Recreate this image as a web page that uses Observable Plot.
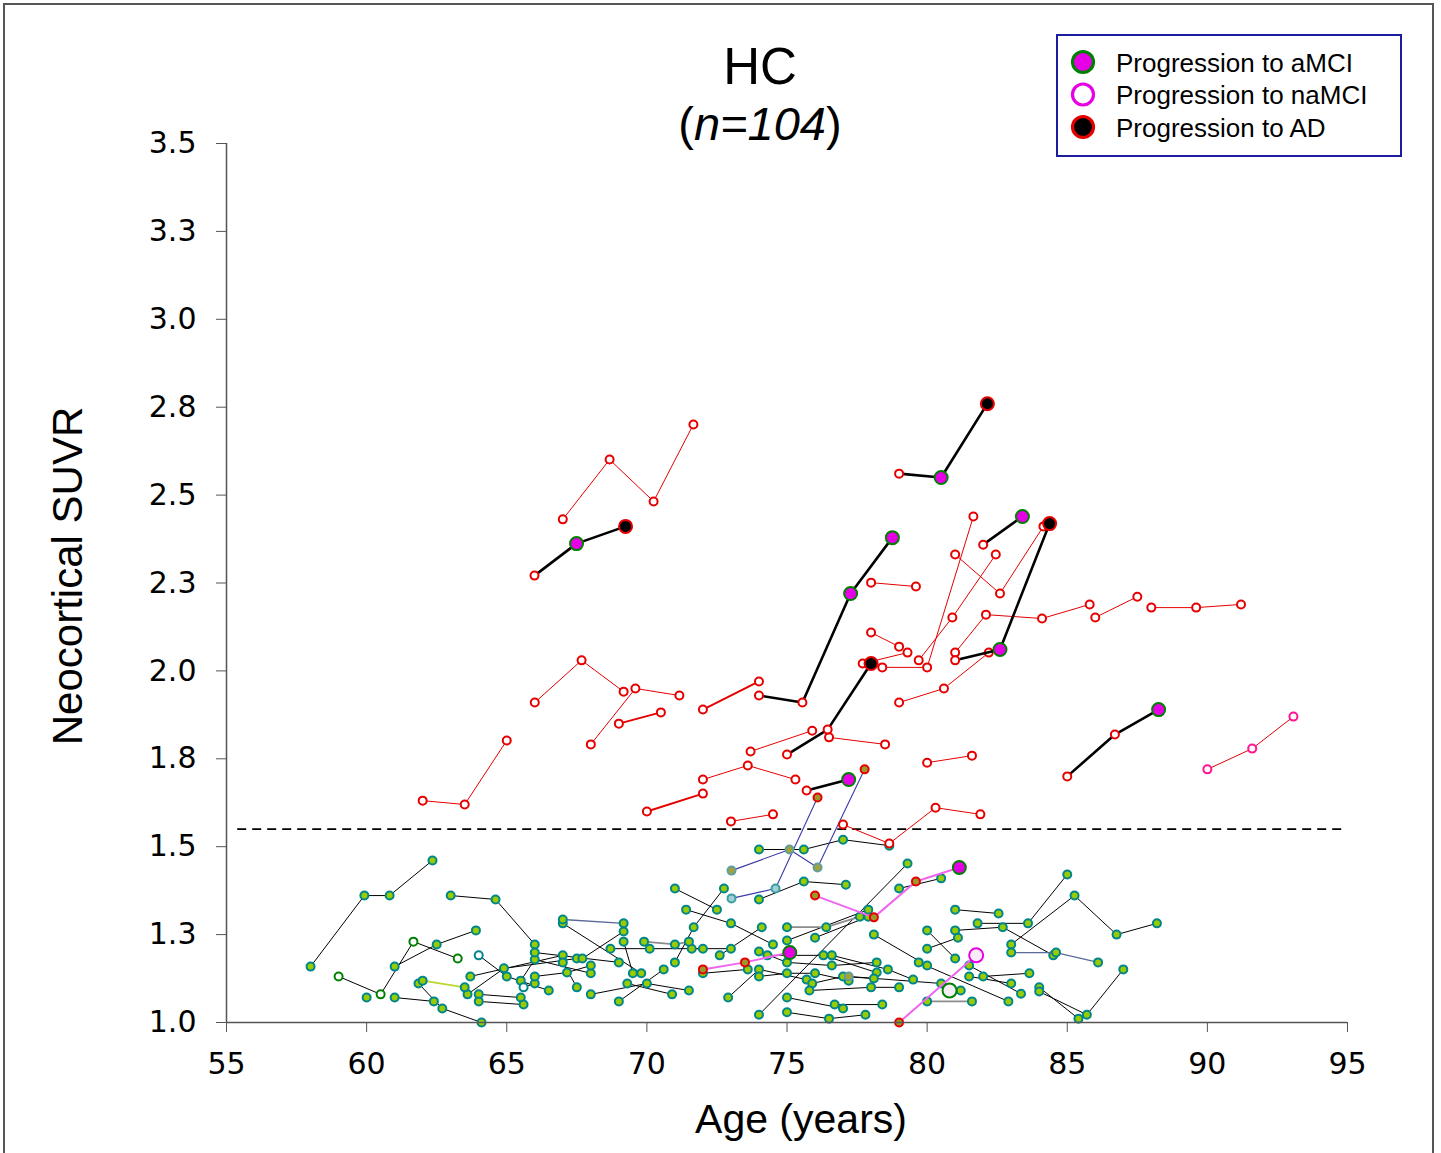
<!DOCTYPE html>
<html><head><meta charset="utf-8">
<script src="https://cdn.jsdelivr.net/npm/d3@7"></script>
<script src="https://cdn.jsdelivr.net/npm/@observablehq/plot@0.6"></script>
<style>
body{margin:0;background:#fff;}
#wrap{position:relative;width:1441px;height:1153px;overflow:hidden;background:#fff;}
#frame{position:absolute;left:3px;top:3px;width:1431px;height:1200px;border:2px solid #555;box-sizing:border-box;}
#chart{position:absolute;left:0;top:0;}
#ov{position:absolute;left:0;top:0;pointer-events:none;}
</style></head>
<body><div id="wrap"><div id="frame"></div><div id="chart"></div><svg id="ov" width="1441" height="1153"></svg></div>
<script>
// ---------- data (age in years, neocortical SUVR, optional point status) ----------
const xTicks = [55,60,65,70,75,80,85,90,95];
const yTicks = [1.0,1.25,1.5,1.75,2.0,2.25,2.5,2.75,3.0,3.25,3.5];
const yTickLabels = ["1.0","1.3","1.5","1.8","2.0","2.3","2.5","2.8","3.0","3.3","3.5"];
const threshold = 1.55;
const titleMain = "HC";
const titleN = "n=104";
const xLabel = "Age (years)";
const yLabel = "Neocortical SUVR";
const legendLabels = ["Progression to aMCI","Progression to naMCI","Progression to AD"];
const legendStatus = ["A","N","D"];

// amyloid-negative subjects (black thin lines)
const greenSubjects = [
 [[74.0,1.492],[75.6,1.492],[77.0,1.520],[78.65,1.503]],
 [[58.0,1.159],[59.92,1.361],[60.82,1.361],[62.35,1.461]],
 [[63.0,1.361],[64.6,1.350],[66.0,1.222]],
 [[59.0,1.131,"o"],[60.5,1.080,"o"],[61.67,1.230,"o"],[63.25,1.182,"o"]],
 [[61.0,1.159],[62.5,1.222],[63.9,1.262]],
 [[60.0,1.071]],
 [[61.0,1.071],[62.4,1.060]],
 [[61.85,1.111],[62.7,1.040],[64.1,1.000]],
 [[63.7,1.131],[67.0,1.191]],
 [[63.6,1.080],[64.9,1.154],[67.5,1.182]],
 [[64.0,1.191,"t"],[65.0,1.131],[66.5,1.091]],
 [[64.0,1.080],[65.5,1.071]],
 [[64.0,1.060],[65.6,1.051]],
 [[65.5,1.119],[66.0,1.179],[68.0,1.140]],
 [[65.6,1.100,"t"],[66.0,1.111]],
 [[66.0,1.199],[69.0,1.171]],
 [[66.0,1.131],[67.15,1.142],[68.0,1.162]],
 [[67.0,1.282],[69.8,1.140]],
 [[67.7,1.182],[69.17,1.259]],
 [[69.17,1.230],[69.5,1.140]],
 [[68.7,1.210],[70.1,1.210],[72.0,1.210]],
 [[71.0,1.381],[72.5,1.321]],
 [[71.0,1.171],[71.67,1.271],[72.75,1.381]],
 [[71.4,1.321],[73.0,1.282],[74.5,1.222]],
 [[72.6,1.191],[74.1,1.271]],
 [[68.0,1.080],[70.0,1.111],[71.5,1.091]],
 [[69.0,1.060],[70.6,1.151]],
 [[69.3,1.111],[70.9,1.080]],
 [[67.0,1.171],[67.5,1.100]],
 [[72.0,1.140],[73.6,1.151]],
 [[72.9,1.071],[74.0,1.151],[75.7,1.122]],
 [[74.0,1.350],[75.6,1.401],[77.1,1.392]],
 [[71.6,1.210],[73.0,1.210]],
 [[81.8,1.282],[83.6,1.282],[85.0,1.421]],
 [[83.0,1.222],[85.26,1.361],[86.76,1.250],[88.2,1.282]],
 [[81.0,1.262],[82.7,1.271],[84.5,1.191]],
 [[82.0,1.131],[83.65,1.140]],
 [[81.5,1.131],[83.0,1.111]],
 [[81.5,1.162],[83.35,1.082]],
 [[79.7,1.171],[82.9,1.060]],
 [[84.0,1.100],[85.4,1.011]],
 [[84.0,1.088],[85.7,1.022],[87.0,1.151]],
 [[81.0,1.321],[82.55,1.310]],
 [[79.0,1.381],[80.5,1.410]],
 [[74.0,1.022],[79.3,1.452]],
 [[75.0,1.029],[76.5,1.011],[77.8,1.022]],
 [[76.7,1.051],[78.4,1.051]],
 [[76.0,1.241],[77.9,1.301]],
 [[75.0,1.233],[77.9,1.321]],
 [[78.1,1.250],[80.0,1.162]],
 [[80.0,1.210],[81.1,1.241]],
 [[74.0,1.202],[75.0,1.171],[76.6,1.162],[78.2,1.171]],
 [[74.3,1.191],[76.3,1.191],[78.2,1.142]],
 [[74.0,1.131],[75.0,1.140],[76.0,1.140],[77.2,1.119]],
 [[76.6,1.191],[78.6,1.151],[79.5,1.122]],
 [[75.9,1.111],[77.0,1.131],[78.1,1.125]],
 [[75.8,1.091],[78.0,1.100],[79.0,1.100]],
 [[77.2,1.131,"v"],[80.5,1.111]],
 [[80.0,1.262],[81.0,1.182]],
 [[80.8,1.091,"O"],[81.2,1.091]],
 [[75.0,1.071],[77.0,1.040]]
];
const grayLineSubjects = [
 [[69.9,1.230],[71.0,1.222],[71.5,1.230]],
 [[75.0,1.271],[76.4,1.271],[77.6,1.301]],
 [[80.0,1.060],[81.6,1.060]]
];
const yellowLineSubjects = [
 [[62.0,1.119],[63.5,1.100]]
];
const slateLineSubjects = [
 [[67.0,1.293],[69.17,1.282]],
 [[83.0,1.199],[84.6,1.199],[86.1,1.171]]
];
const blueSubjects = [
 [[73.02,1.353,"b"],[74.59,1.381,"b"],[76.09,1.640,"r"]],
 [[73.02,1.432,"v"],[75.09,1.492,"v"],[76.09,1.441,"v"],[77.77,1.720,"r"]]
];
const pinkSubjects = [
 [[72.0,1.151,"r"],[73.5,1.171,"r"],[75.1,1.199,"A"]],
 [[76.0,1.361,"r"],[78.1,1.299,"r"],[79.6,1.401,"r"],[81.15,1.441,"A"]],
 [[79.0,1.000,"r"],[81.75,1.191,"N"]]
];
// amyloid-positive subjects (red lines)
const redSubjects = [
 [[67.0,2.431],[68.67,2.601],[70.24,2.482],[71.66,2.701]],
 [[62.0,1.631],[63.5,1.620],[65.0,1.802]],
 [[66.0,1.910],[67.67,2.030],[69.17,1.941]],
 [[68.0,1.791],[69.59,1.950],[71.16,1.930]],
 [[72.0,1.691],[73.6,1.731],[75.3,1.691]],
 [[73.7,1.771],[75.9,1.830]],
 [[76.5,1.811],[78.5,1.791]],
 [[79.0,1.910],[80.6,1.950],[82.2,2.052]],
 [[80.0,1.739],[81.6,1.759]],
 [[73.0,1.572],[74.5,1.592]],
 [[77.0,1.563],[78.65,1.509],[80.3,1.611],[81.9,1.592]],
 [[86.0,2.152],[87.5,2.211]],
 [[88.0,2.180],[89.6,2.180],[91.2,2.189]],
 [[81.0,2.331],[82.6,2.220],[84.15,2.411]],
 [[78.4,2.010],[80.0,2.010],[81.65,2.439]],
 [[79.7,2.030],[80.9,2.152],[82.45,2.331]],
 [[78.0,2.109],[79.0,2.069]],
 [[77.7,2.021],[79.3,2.052]],
 [[78.0,2.251],[79.6,2.240]],
 [[81.0,2.052],[82.1,2.160],[84.1,2.149],[85.8,2.189]],
 [[90.0,1.720,"k"],[91.6,1.779,"k"],[93.07,1.870,"k"]]
];
const redThickSubjects = [
 [[69.0,1.850],[70.5,1.882]],
 [[72.0,1.890],[74.0,1.970]],
 [[70.0,1.600],[72.0,1.651]]
];
// progressors (black thick lines)
const progressorSubjects = [
 [[65.99,2.271,"p"],[67.49,2.362,"A"],[69.24,2.411,"D"]],
 [[74.0,1.930,"p"],[75.55,1.910,"p"],[77.27,2.220,"A"],[78.76,2.379,"A"]],
 [[75.0,1.762,"p"],[76.45,1.833,"p"],[78.0,2.021,"D"]],
 [[75.7,1.660,"p"],[77.2,1.691,"A"]],
 [[85.0,1.700,"p"],[86.7,1.819,"p"],[88.26,1.890,"A"]],
 [[79.0,2.561,"p"],[80.5,2.550,"A"],[82.15,2.760,"D"]],
 [[82.0,2.359,"p"],[83.4,2.439,"A"]],
 [[81.0,2.030,"p"],[82.6,2.061,"A"],[84.37,2.419,"D"]]
];

// ---------- styles ----------
const statusStyle = {
 n:{fill:"#99cc00",stroke:"#00868b",r:4},
 o:{fill:"#ffffff",stroke:"#008000",r:4},
 t:{fill:"#ffffff",stroke:"#00868b",r:4},
 b:{fill:"#9fd0d4",stroke:"#3e9ca3",r:4},
 v:{fill:"#a3a33a",stroke:"#5f9ea0",r:4},
 p:{fill:"#ffffff",stroke:"#e60000",r:4},
 k:{fill:"#ffffff",stroke:"#ff1493",r:4},
 r:{fill:"#9a9a2a",stroke:"#e60000",r:4},
 O:{fill:"#f3eef3",stroke:"#008000",r:7},
 N:{fill:"#f8ecf8",stroke:"#e600e6",r:7},
 A:{fill:"#e600e6",stroke:"#008000",r:6.5},
 D:{fill:"#000000",stroke:"#e60000",r:6.5}
};
const groups = [
 {data:greenSubjects, def:"n", stroke:"#000", w:1},
 {data:grayLineSubjects, def:"n", stroke:"#8c8c8c", w:1.8},
 {data:yellowLineSubjects, def:"n", stroke:"#b8d830", w:1.8},
 {data:slateLineSubjects, def:"n", stroke:"#5a6a9a", w:1.3},
 {data:blueSubjects, def:"n", stroke:"#3a3aa8", w:1.1},
 {data:pinkSubjects, def:"n", stroke:"#ee66ee", w:2},
 {data:redSubjects, def:"p", stroke:"#e60000", w:1},
 {data:redThickSubjects, def:"p", stroke:"#e60000", w:2},
 {data:progressorSubjects, def:"p", stroke:"#000", w:2.6}
];

const marks = [];
marks.push(Plot.ruleY([threshold], {x1:55.4, x2:95, stroke:"#000", strokeWidth:1.6, strokeDasharray:"9,6"}));
let id = 0;
for (const g of groups) {
  const rows = [];
  g.data.forEach(s => { id++; s.forEach(p => rows.push({id, age:p[0], suvr:p[1], status:p[2] || g.def})); });
  marks.push(Plot.line(rows, {x:"age", y:"suvr", z:"id", stroke:g.stroke, strokeWidth:g.w}));
  for (const [k, st] of Object.entries(statusStyle)) {
    const sub = rows.filter(r => r.status === k);
    if (sub.length) marks.push(Plot.dot(sub, {x:"age", y:"suvr", r:st.r, fill:st.fill, stroke:st.stroke, strokeWidth:2}));
  }
}
marks.push(Plot.ruleX([55], {y1:1.0, y2:3.5, stroke:"#555", strokeWidth:1.5}));
marks.push(Plot.ruleY([1.0], {x1:55, x2:95, stroke:"#555", strokeWidth:1.5}));
marks.push(Plot.axisY({ticks:yTicks, tickFormat:d => yTickLabels[yTicks.indexOf(d)], tickSize:10, tickPadding:20, fontSize:30, label:null, stroke:"#555", fill:"#000"}));
marks.push(Plot.axisX({ticks:xTicks, tickFormat:d => String(d), tickSize:10, tickPadding:20, fontSize:30, label:null, stroke:"#555", fill:"#000"}));

const chart = Plot.plot({
  width:1441, height:1153,
  marginLeft:226, marginRight:94, marginTop:143, marginBottom:131,
  x:{domain:[55,95]}, y:{domain:[1.0,3.5]},
  style:{fontFamily:"DejaVu Sans, Verdana, sans-serif", background:"transparent", color:"#000"},
  marks
});
document.getElementById("chart").appendChild(chart);

// ---------- titles, axis labels and legend overlay ----------
const ov = d3.select("#ov");
const sans = "Liberation Sans, Arial, sans-serif";
ov.append("text").attr("x",760).attr("y",84).attr("text-anchor","middle")
  .attr("font-family",sans).attr("font-size",51).text(titleMain);
const t2 = ov.append("text").attr("x",760).attr("y",140).attr("text-anchor","middle")
  .attr("font-family",sans).attr("font-size",47);
t2.append("tspan").text("(");
t2.append("tspan").attr("font-style","italic").text(titleN);
t2.append("tspan").text(")");
ov.append("text").attr("transform","translate(82,576) rotate(-90)").attr("text-anchor","middle")
  .attr("font-family",sans).attr("font-size",42).text(yLabel);
ov.append("text").attr("x",801).attr("y",1133).attr("text-anchor","middle")
  .attr("font-family",sans).attr("font-size",41).text(xLabel);
ov.append("rect").attr("x",1057).attr("y",35).attr("width",344).attr("height",121)
  .attr("fill","#fff").attr("stroke","#1c1ca0").attr("stroke-width",2);
legendLabels.forEach((lab, i) => {
  const st = statusStyle[legendStatus[i]];
  const cy = 62 + i*32.5;
  ov.append("circle").attr("cx",1083).attr("cy",cy).attr("r",10.5)
    .attr("fill", legendStatus[i]==="N" ? "#fff" : st.fill).attr("stroke",st.stroke).attr("stroke-width",3.2);
  ov.append("text").attr("x",1116).attr("y",cy+9.5)
    .attr("font-family",sans).attr("font-size",26).text(lab);
});
</script></body></html>
